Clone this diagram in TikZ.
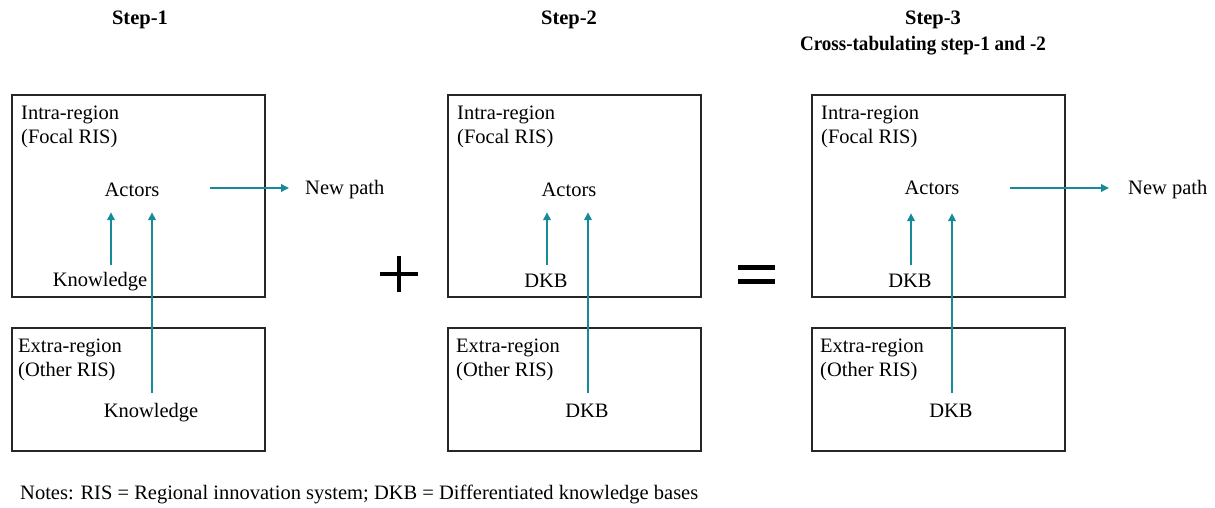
\documentclass[tikz,border=0pt]{standalone}
\usepackage{fontspec}
\setmainfont{Liberation Serif}
\usetikzlibrary{arrows.meta,calc}
\definecolor{tealarrow}{RGB}{22,138,152}
\begin{document}
\begin{tikzpicture}[x=1pt,y=-1pt,
  box/.style={draw=black!85, line width=1.5pt, rectangle, inner sep=0pt, anchor=north west, minimum width=253pt, minimum height=202pt},
  lowbox/.style={box, minimum height=123pt},
  lbl/.style={font=\fontsize{20.5}{24}\selectfont, inner sep=0pt, anchor=base, text height=13pt, text depth=4pt},
  multi/.style={font=\fontsize{20.5}{24}\selectfont, inner sep=0pt, anchor=base west, align=left},
  ttl/.style={font=\fontsize{20.5}{26}\selectfont\bfseries, inner sep=0pt, anchor=base, align=center},
  arr/.style={draw=tealarrow, line width=1.8pt, -{Triangle[length=8pt,width=7.5pt]}},
  sign/.style={line width=4.8pt, black}
]
\useasboundingbox (0,0) rectangle (1215,507);

% titles
\node[ttl] (t1) at (140,24) {Step-1};
\node[ttl] (t2) at (569,24) {Step-2};
\node[ttl] (t3) at (933,24) {Step-3};
\node[ttl] (t3b) at (923,50) {\scalebox{0.93}[1]{Cross-tabulating step-1 and -2}};

% ---------- Panel 1
\node[box] (in1) at (11,94) {};
\node[lowbox] (ex1) at (11,327) {};
\node[multi] (ir1) at (21,143) {Intra-region\\(Focal RIS)};
\node[multi] (er1) at (18,376) {Extra-region\\(Other RIS)};
\node[lbl] (act1) at (132,196) {Actors};
\node[lbl, anchor=base west] (np1) at (305,194) {New path};
\node[lbl] (kn1) at (100,286) {Knowledge};
\node[lbl] (kn1b) at (151,417) {Knowledge};
\draw[arr] ([xshift=11pt,yshift=8pt]kn1.north) -- ([xshift=-21pt,yshift=-12pt]act1.south);
\draw[arr] ([xshift=1pt,yshift=11pt]kn1b.north) -- ([xshift=20pt,yshift=-12pt]act1.south);
\draw[arr] ([xshift=50pt,yshift=3.5pt]act1.east) -- ([xshift=-16pt,yshift=1.5pt]np1.west);

% plus
\coordinate (plusc) at (399,274);
\draw[sign] ([xshift=-19pt]plusc) -- ([xshift=19pt]plusc);
\draw[sign] ([yshift=18pt]plusc) -- ([yshift=-18pt]plusc);

% ---------- Panel 2
\node[box] (in2) at (447,94) {};
\node[lowbox] (ex2) at (447,327) {};
\node[multi] (ir2) at (457,143) {Intra-region\\(Focal RIS)};
\node[multi] (er2) at (456,376) {Extra-region\\(Other RIS)};
\node[lbl] (act2) at (569,196) {Actors};
\node[lbl] (dkb2) at (546,287) {DKB};
\node[lbl] (dkb2b) at (587,417) {DKB};
\draw[arr] ([xshift=1pt,yshift=9pt]dkb2.north) -- ([xshift=-22pt,yshift=-12pt]act2.south);
\draw[arr] ([xshift=1pt,yshift=11pt]dkb2b.north) -- ([xshift=19pt,yshift=-12pt]act2.south);

% equals
\coordinate (eqc) at (756.5,274.5);
\draw[sign] ([xshift=-18.5pt,yshift=7pt]eqc) -- ([xshift=18.5pt,yshift=7pt]eqc);
\draw[sign] ([xshift=-18.5pt,yshift=-7pt]eqc) -- ([xshift=18.5pt,yshift=-7pt]eqc);

% ---------- Panel 3
\node[box] (in3) at (811,94) {};
\node[lowbox] (ex3) at (811,327) {};
\node[multi] (ir3) at (821,143) {Intra-region\\(Focal RIS)};
\node[multi] (er3) at (820,376) {Extra-region\\(Other RIS)};
\node[lbl] (act3) at (932,194) {Actors};
\node[lbl, anchor=base west] (np3) at (1128,194) {New path};
\node[lbl] (dkb3) at (910,287) {DKB};
\node[lbl] (dkb3b) at (951,417) {DKB};
\draw[arr] ([xshift=1pt,yshift=9pt]dkb3.north) -- ([xshift=-21pt,yshift=-15pt]act3.south);
\draw[arr] ([xshift=1pt,yshift=11pt]dkb3b.north) -- ([xshift=20pt,yshift=-15pt]act3.south);
\draw[arr] ([xshift=50pt,yshift=1.5pt]act3.east) -- ([xshift=-19pt,yshift=1.5pt]np3.west);

% notes
\node[multi] (notes) at (20,499) {Notes: RIS = Regional innovation system; DKB = Differentiated knowledge bases};
\end{tikzpicture}
\end{document}
